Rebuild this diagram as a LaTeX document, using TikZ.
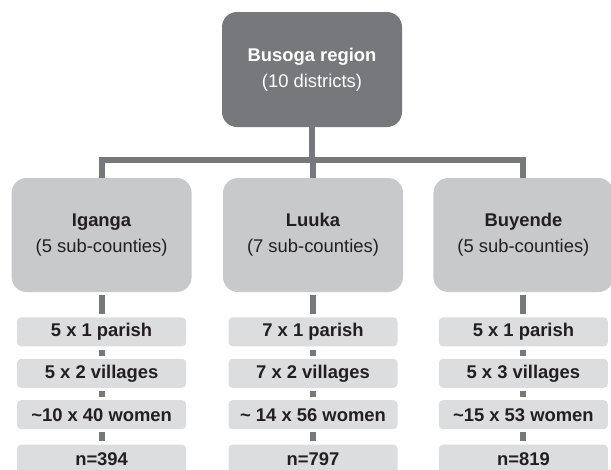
\documentclass[tikz,border=0pt]{standalone}
\usepackage{fontspec}
\setmainfont{Liberation Sans}
\usetikzlibrary{positioning}
\definecolor{topgray}{HTML}{77787B}
\definecolor{midgray}{HTML}{C8C9CB}
\definecolor{levelgray}{HTML}{DCDDDF}
\definecolor{inkgray}{HTML}{231F20}
\begin{document}
\begin{tikzpicture}[x=1pt,y=-1pt,node distance=12pt,
  every node/.style={font=\fontsize{18.4}{26}\selectfont,text=inkgray,
    align=center,inner sep=0pt},
  region/.style={fill=topgray,text=white,minimum width=180pt,
    minimum height=115pt,rounded corners=15pt},
  district/.style={fill=midgray,minimum width=180pt,minimum height=114pt,
    rounded corners=15pt},
  level/.style={fill=levelgray,minimum width=169pt,minimum height=29pt,
    rounded corners=4pt,font=\fontsize{18.4}{26}\selectfont\bfseries},
  link/.style={draw=topgray,line width=6pt},
  shortlink/.style={link,shorten >=3pt,shorten <=3pt}]

  \useasboundingbox (0,0) rectangle (611,469);

  \node[region] (busoga) at (312,69.5) {\textbf{Busoga region}\\(10 districts)};
  \node[district] (luuka) at (313,235) {\textbf{Luuka}\\(7 sub-counties)};
  \node[district] (iganga) [left=31pt of luuka] {\textbf{Iganga}\\(5 sub-counties)};
  \node[district] (buyende) [right=30pt of luuka] {\textbf{Buyende}\\(5 sub-counties)};

  \node[level] (ig1) [below=25pt of iganga] {5 x 1 parish};
  \node[level] (ig2) [below=of ig1] {5 x 2 villages};
  \node[level] (ig3) [below=of ig2] {\textasciitilde10 x 40 women};
  \node[level] (ig4) [below=15pt of ig3] {n=394};

  \node[level] (lu1) [below=25pt of luuka] {7 x 1 parish};
  \node[level] (lu2) [below=of lu1] {7 x 2 villages};
  \node[level] (lu3) [below=of lu2] {\textasciitilde\ 14 x 56 women};
  \node[level] (lu4) [below=15pt of lu3] {n=797};

  \node[level] (bu1) [below=25pt of buyende] {5 x 1 parish};
  \node[level] (bu2) [below=of bu1] {5 x 3 villages};
  \node[level] (bu3) [below=of bu2] {\textasciitilde15 x 53 women};
  \node[level] (bu4) [below=15pt of bu3] {n=819};

  \coordinate (hub) at (312,160);
  \draw[link] (busoga) -- (hub);
  \draw[link] (iganga.north) |- (hub) -| (buyende.north);
  \draw[link] (hub) -- (hub -| luuka.north) -- (luuka.north);

  \path
    (iganga) edge[shortlink] (ig1)
    (ig1) edge[shortlink] (ig2)
    (ig2) edge[shortlink] (ig3)
    (ig3) edge[shortlink] (ig4)
    (luuka) edge[shortlink] (lu1)
    (lu1) edge[shortlink] (lu2)
    (lu2) edge[shortlink] (lu3)
    (lu3) edge[shortlink] (lu4)
    (buyende) edge[shortlink] (bu1)
    (bu1) edge[shortlink] (bu2)
    (bu2) edge[shortlink] (bu3)
    (bu3) edge[shortlink] (bu4);
\end{tikzpicture}
\end{document}
